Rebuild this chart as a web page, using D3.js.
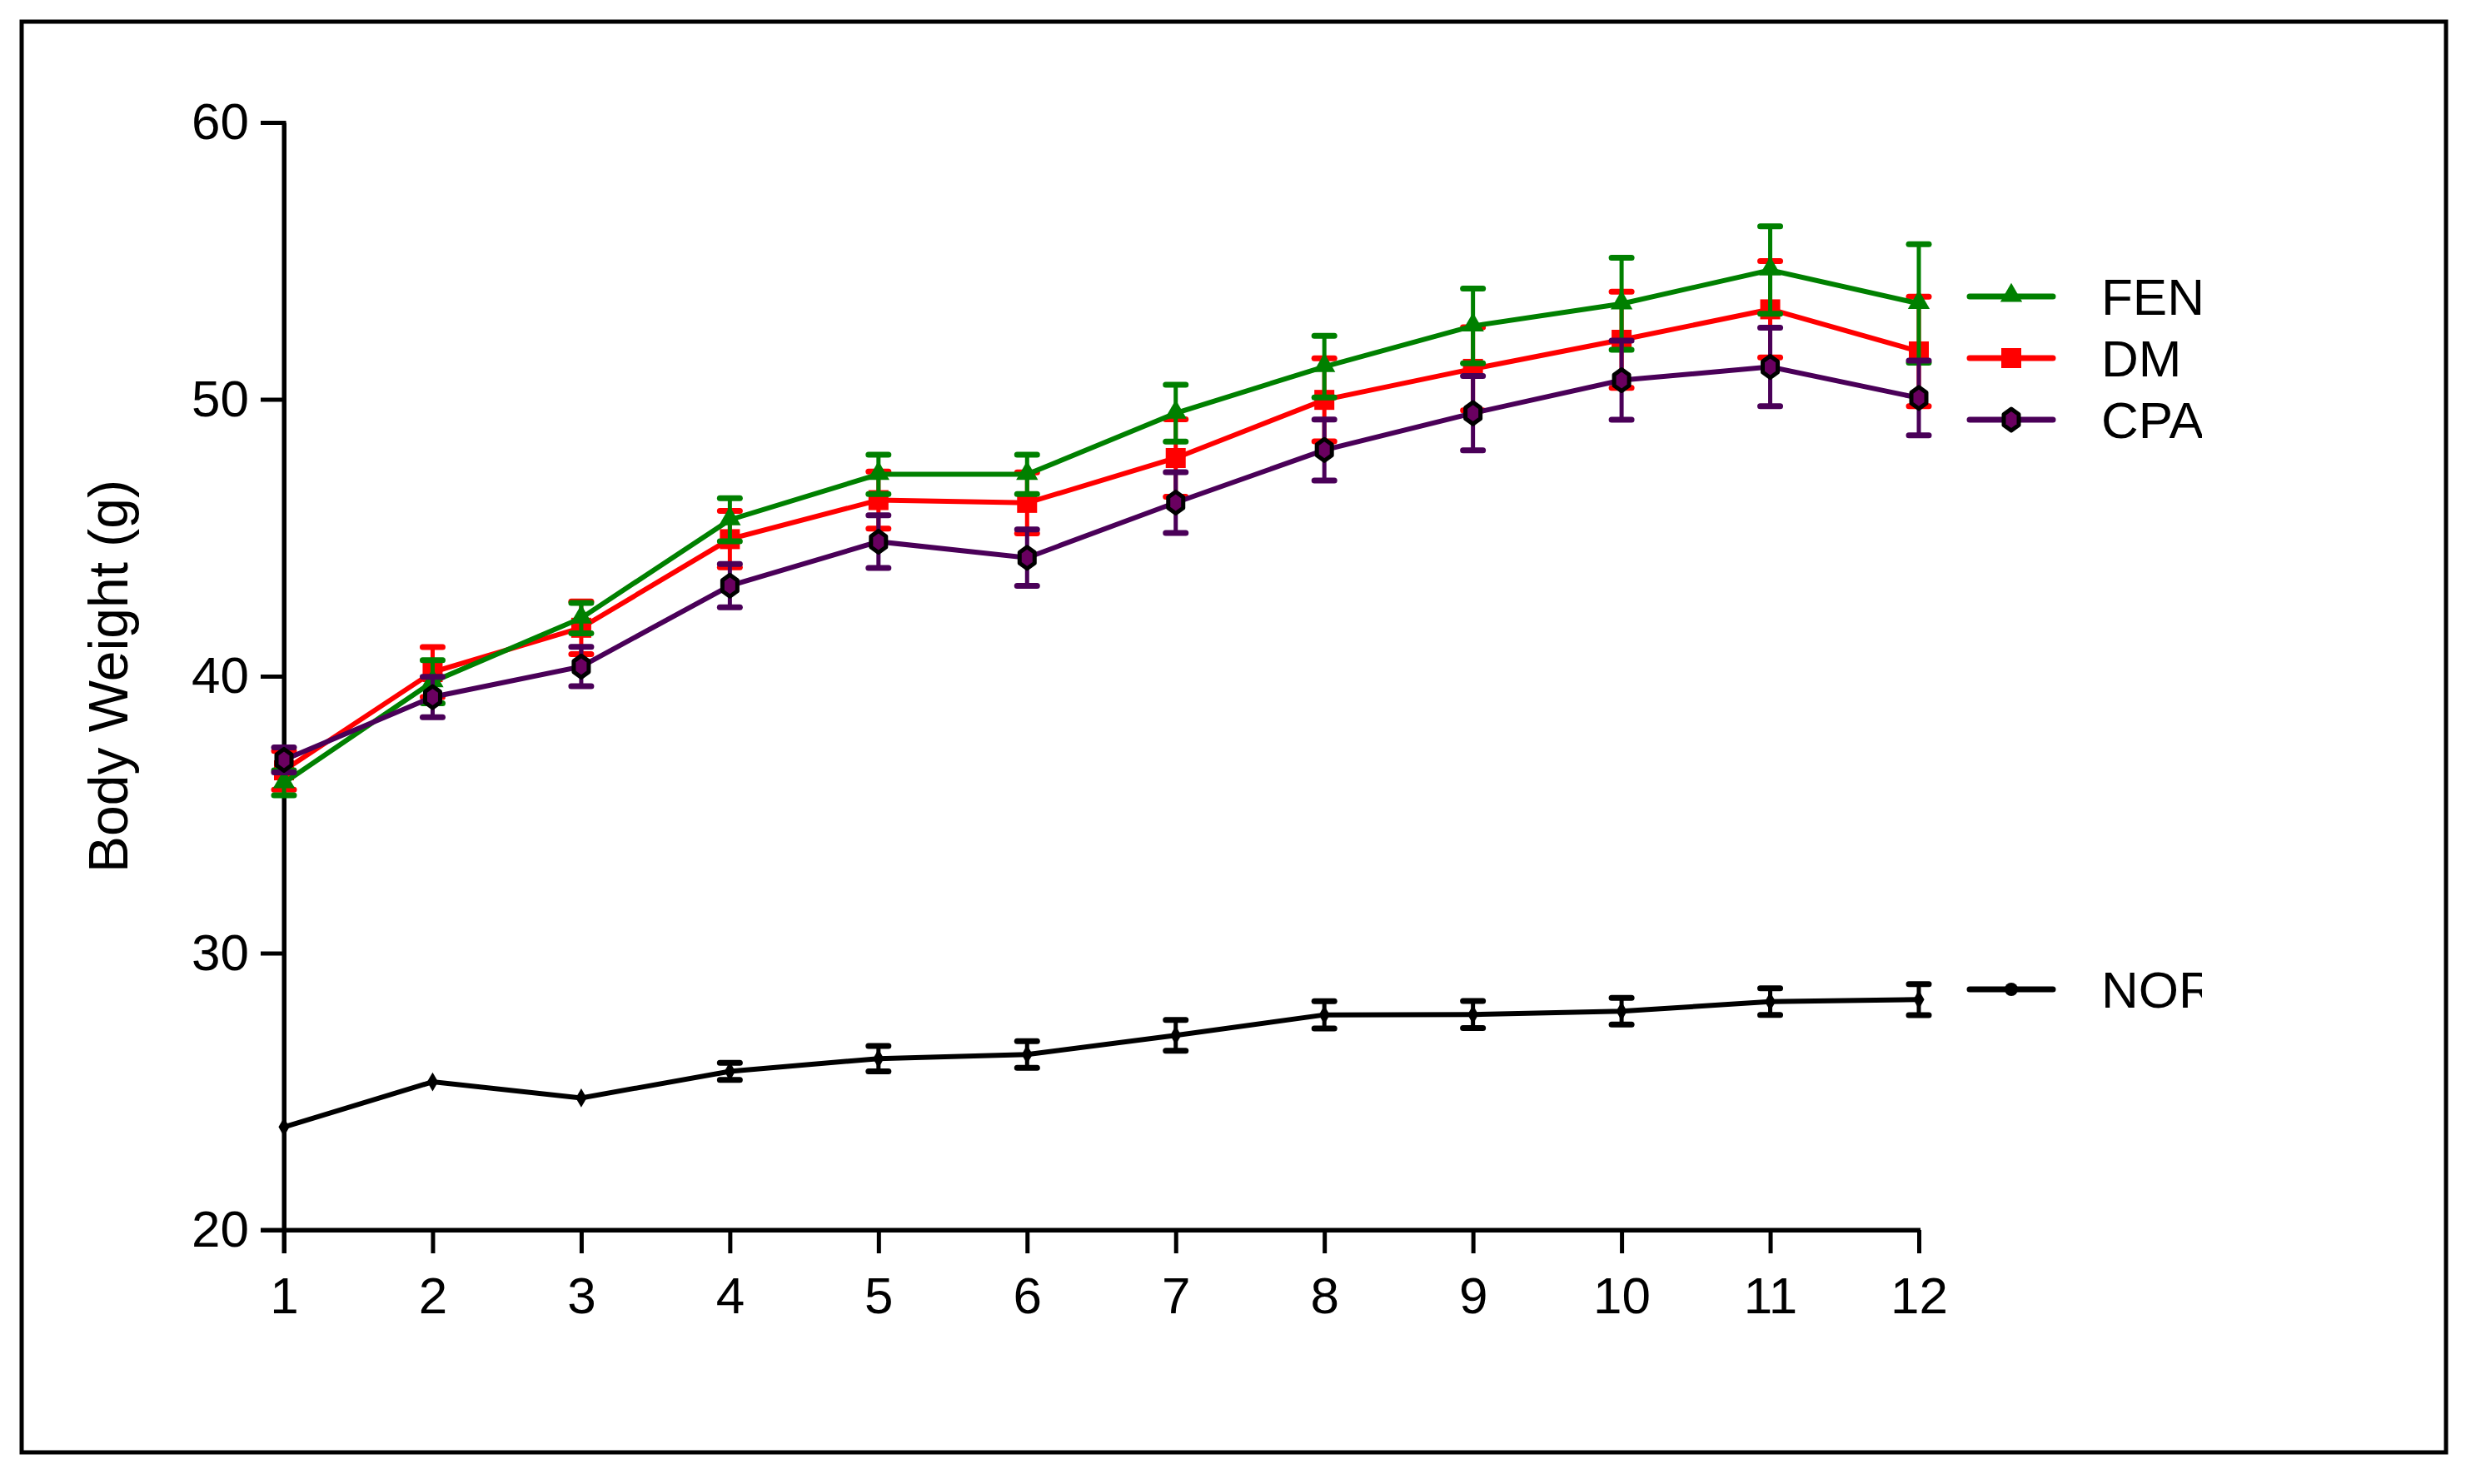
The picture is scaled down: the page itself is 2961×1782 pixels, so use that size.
<!DOCTYPE html>
<html>
<head>
<meta charset="utf-8">
<script src="https://cdn.jsdelivr.net/npm/d3@7"></script>
<style>
  html, body { margin: 0; padding: 0; background: #fff; }
  svg { display: block; }
  text { font-family: "Liberation Sans", Arial, sans-serif; }
</style>
</head>
<body>
<script>
// ---------- data ----------
const weeks = [1, 2, 3, 4, 5, 6, 7, 8, 9, 10, 11, 12];
const yTicks = [20, 30, 40, 50, 60];
const seriesNames = ["DM", "FENO", "CPA", "NOR"];

const fenMean = [36.15, 39.8, 42.1, 45.65, 47.29, 47.29, 49.5, 51.18, 52.65, 53.45, 54.67, 53.46];
const fenSem  = [0.45, 0.78, 0.55, 0.78, 0.71, 0.71, 1.03, 1.11, 1.35, 1.66, 1.58, 2.14];
const dmMean  = [36.6, 40.15, 41.75, 44.95, 46.36, 46.26, 47.88, 49.98, 51.1, 52.15, 53.25, 51.73];
const dmSem   = [0.7, 0.9, 0.95, 1.02, 1.03, 1.1, 1.4, 1.5, 1.5, 1.74, 1.74, 1.98];
const cpaMean = [36.98, 39.25, 40.35, 43.27, 44.86, 44.28, 46.27, 48.17, 49.5, 50.69, 51.17, 50.05];
const cpaSem  = [0.45, 0.73, 0.71, 0.78, 0.95, 1.02, 1.1, 1.1, 1.34, 1.43, 1.42, 1.35];
const norMean = [23.72, 25.35, 24.77, 25.73, 26.19, 26.34, 27.03, 27.77, 27.78, 27.9, 28.25, 28.32];
const norSem  = [0.03, 0.03, 0.03, 0.31, 0.46, 0.48, 0.56, 0.49, 0.49, 0.48, 0.48, 0.56];

// ---------- layout ----------
const W = 2961, H = 1782;
const svg = d3.select("body").append("svg").attr("width", W).attr("height", H);

svg.append("rect").attr("x", 26).attr("y", 26).attr("width", 2911).attr("height", 1718)
  .attr("fill", "none").attr("stroke", "#000").attr("stroke-width", 5);

const x = d3.scaleLinear().domain([1, 12]).range([341, 2304]);
const y = d3.scaleLinear().domain([20, 60]).range([1477, 147]);

const FONT = 62;

// axes
const yAxis = svg.append("g").attr("transform", `translate(${x(1)},0)`)
  .call(d3.axisLeft(y).tickValues(yTicks).tickSize(28).tickSizeOuter(0).tickPadding(14));
const xAxis = svg.append("g").attr("transform", `translate(0,${y(20)})`)
  .call(d3.axisBottom(x).tickValues(weeks).tickSize(28).tickSizeOuter(0).tickPadding(28));
[xAxis, yAxis].forEach(g => {
  g.selectAll("path.domain").attr("stroke", "#000").attr("stroke-width", 5);
  g.selectAll(".tick line").attr("stroke", "#000").attr("stroke-width", 5);
  g.selectAll(".tick text").attr("font-size", FONT).attr("fill", "#000")
    .style("font-family", '"Liberation Sans", Arial, sans-serif');
});
// extend x-axis left to meet y tick, y axis down to x tick
svg.append("line").attr("x1", x(1) - 28).attr("x2", x(12) + 2)
  .attr("y1", y(20)).attr("y2", y(20)).attr("stroke", "#000").attr("stroke-width", 5);
svg.append("line").attr("x1", x(1)).attr("x2", x(1))
  .attr("y1", y(60) - 2).attr("y2", y(20) + 28).attr("stroke", "#000").attr("stroke-width", 5);

// axis title
svg.append("text").attr("transform", `translate(153,${(y(20) + y(60)) / 2}) rotate(-90)`)
  .attr("text-anchor", "middle").attr("font-size", 66).text("Body Weight (g)");

// ---------- series ----------
const hexPath = (w, h) => {
  const pts = [[0, -h/2], [w/2, -h/4], [w/2, h/4], [0, h/2], [-w/2, h/4], [-w/2, -h/4]];
  return "M" + pts.map(p => p.join(",")).join("L") + "Z";
};

const series = [
  { name: "DM",   mean: dmMean,  sem: dmSem,  color: "#ff0000", legendY: 430,
    marker: g => g.append("rect").attr("x", -12).attr("y", -12).attr("width", 24).attr("height", 24).attr("fill", "#ff0000") },
  { name: "FENO", mean: fenMean, sem: fenSem, color: "#008000", legendY: 356,
    marker: g => g.append("path").attr("d", d3.symbol(d3.symbolTriangle, 300)()).attr("fill", "#008000").attr("transform", "translate(0,-1)") },
  { name: "CPA",  mean: cpaMean, sem: cpaSem, color: "#4a0058", legendY: 504,
    marker: g => g.append("path").attr("d", hexPath(18, 26)).attr("fill", "#6a0060").attr("stroke", "#000").attr("stroke-width", 5).attr("stroke-linejoin", "round") },
  { name: "NOR",  mean: norMean, sem: norSem, color: "#000000", legendY: 1188,
    marker: g => g.append("path").attr("d", d3.symbol(d3.symbolDiamond, 150)()).attr("fill", "#000"),
    legendMarker: g => g.append("circle").attr("r", 8).attr("fill", "#000") }
];

const line = d3.line().x(d => x(d.w)).y(d => y(d.v));

series.forEach(s => {
  const pts = weeks.map((w, i) => ({ w, v: s.mean[i], e: s.sem[i] }));
  const g = svg.append("g");
  // error bars
  const eb = g.selectAll("g.eb").data(pts).join("g");
  eb.append("line").attr("x1", d => x(d.w)).attr("x2", d => x(d.w))
    .attr("y1", d => y(d.v + d.e)).attr("y2", d => y(d.v - d.e))
    .attr("stroke", s.color).attr("stroke-width", 5);
  [1, -1].forEach(sign => {
    eb.append("line").attr("x1", d => x(d.w) - 12).attr("x2", d => x(d.w) + 12)
      .attr("y1", d => y(d.v + sign * d.e)).attr("y2", d => y(d.v + sign * d.e))
      .attr("stroke", s.color).attr("stroke-width", 7).attr("stroke-linecap", "round")
      .attr("opacity", d => d.e > 0.1 ? 1 : 0);
  });
  // line
  g.append("path").datum(pts).attr("d", line).attr("fill", "none")
    .attr("stroke", s.color).attr("stroke-width", 6).attr("stroke-linejoin", "miter");
  // markers
  g.selectAll("g.mk").data(pts).join("g")
    .attr("transform", d => `translate(${x(d.w)},${y(d.v)})`)
    .each(function () { s.marker(d3.select(this)); });
});

// ---------- legend ----------
const clip = svg.append("clipPath").attr("id", "legclip");
clip.append("rect").attr("x", 2300).attr("y", 0).attr("width", 344).attr("height", H);
const leg = svg.append("g").attr("clip-path", "url(#legclip)");
series.forEach(s => {
  const lg = leg.append("g").attr("transform", `translate(0,${s.legendY})`);
  lg.append("line").attr("x1", 2365).attr("x2", 2465).attr("y1", 0).attr("y2", 0)
    .attr("stroke", s.color).attr("stroke-width", 7).attr("stroke-linecap", "round");
  const mg = lg.append("g").attr("transform", "translate(2415,0)");
  (s.legendMarker || s.marker)(mg);
  lg.append("text").attr("x", 2523).attr("y", 22).attr("font-size", FONT).attr("fill", "#000").text(s.name);
});
</script>
</body>
</html>
